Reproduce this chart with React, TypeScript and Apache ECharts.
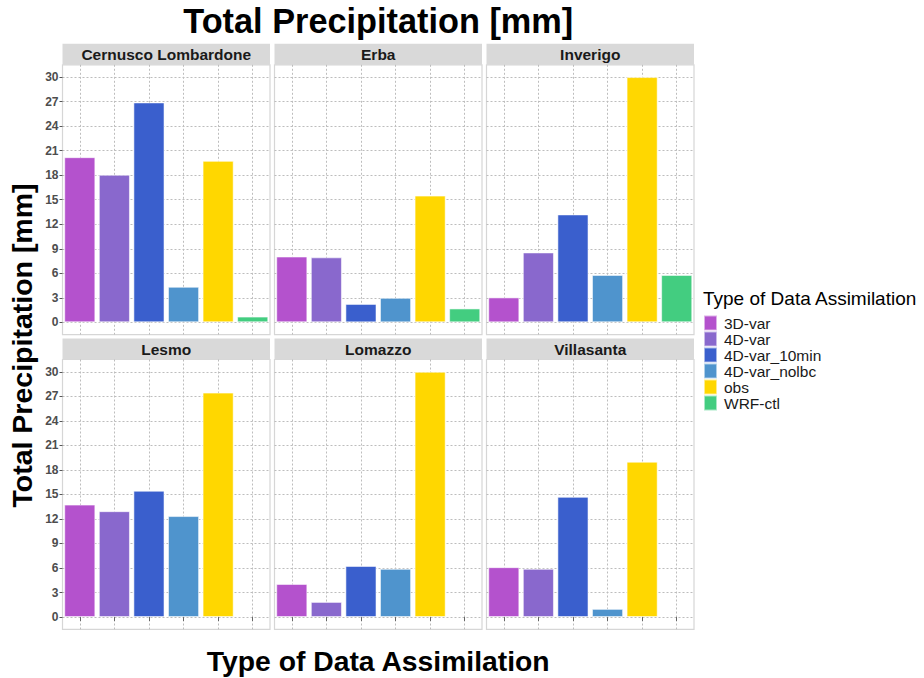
import React, { useEffect, useRef } from "react";
import * as echarts from "echarts";

const locations = ["Cernusco Lombardone", "Erba", "Inverigo", "Lesmo", "Lomazzo", "Villasanta"];
const types = ["3D-var", "4D-var", "4D-var_10min", "4D-var_nolbc", "obs", "WRF-ctl"];
const typeColors = ["#B452CD", "#8968CD", "#3A5FCD", "#4F94CD", "#FFD700", "#43CD80"];

// values per type, in the order of `locations`
const var3D = [20.2, 8.05, 3.05, 13.75, 4.05, 6.1];
const var4D = [18.05, 7.95, 8.55, 12.95, 1.85, 5.9];
const var4D10min = [26.9, 2.25, 13.2, 15.45, 6.25, 14.7];
const var4DNolbc = [4.35, 3.0, 5.8, 12.35, 5.9, 1.0];
const obs = [19.75, 15.5, 30.0, 27.45, 30.0, 19.0];
const wrfCtl: (number | null)[] = [0.7, 1.7, 5.8, null, null, null];
const typeValues = [var3D, var4D, var4D10min, var4DNolbc, obs, wrfCtl];

const yMin = 0;
const yMax = 30;
const yStep = 3;

const FONT = "Liberation Sans, Arial, Helvetica, sans-serif";

export default function App() {
  const ref = useRef<HTMLDivElement>(null);

  useEffect(() => {
    document.body.style.margin = "0";
    if (!ref.current) return;
    const chart = echarts.init(ref.current, undefined, { renderer: "svg" });

    const colLeft = [62.5, 274.5, 486.5];
    const rowTop = [64.8, 359.5];
    const panelW = 207.5;
    const panelH = 269.8;
    const expand = (panelH / (yMax - yMin + 2 * 0.05 * (yMax - yMin))) * 0.05 * (yMax - yMin);
    const stripH = 21;

    // frame slots: 2 per category, so odd slots sit at the category centres
    const frameSlots = Array.from({ length: types.length * 2 + 1 }, (_, k) => String(k));

    const grids: any[] = [];
    const xAxes: any[] = [];
    const yAxes: any[] = [];
    const series: any[] = [];
    const graphics: any[] = [];

    const grid = (dash: number[]) => ({ color: "#bdbdbd", type: dash, width: 1 });

    // outer (frame) grids
    locations.forEach((loc, p) => {
      const r = Math.floor(p / 3);
      const c = p % 3;
      grids.push({
        left: colLeft[c],
        top: rowTop[r],
        width: panelW,
        height: panelH,
        show: true,
        borderColor: "#d6d6d6",
        borderWidth: 1.2,
        backgroundColor: "transparent",
      });
      xAxes.push({
        type: "category",
        gridIndex: p,
        data: frameSlots,
        boundaryGap: false,
        axisLine: { show: false },
        axisLabel: { show: false },
        axisTick: {
          show: r === 1,
          interval: (i: number) => i % 2 === 1,
          length: 4,
          lineStyle: { color: "#666", width: 1 },
        },
        splitLine: {
          show: true,
          interval: (i: number) => i % 2 === 1,
          lineStyle: grid([2, 2]),
        },
      });
      yAxes.push({ type: "value", gridIndex: p, min: yMin - 1.5, max: yMax + 1.5, show: false });

      // strip
      graphics.push({
        type: "rect",
        shape: { x: colLeft[c], y: rowTop[r] - stripH, width: panelW, height: stripH },
        style: { fill: "#d9d9d9" },
        silent: true,
      });
      graphics.push({
        type: "text",
        x: colLeft[c] + panelW / 2,
        y: rowTop[r] - stripH / 2 + 0.5,
        style: {
          text: loc,
          fontSize: 15.5,
          fontWeight: "bold",
          fontFamily: FONT,
          fill: "#1a1a1a",
          align: "center",
          verticalAlign: "middle",
        },
        silent: true,
      });
    });

    // inner (data) grids
    locations.forEach((loc, p) => {
      const r = Math.floor(p / 3);
      const c = p % 3;
      const gi = 6 + p;
      grids.push({
        left: colLeft[c],
        top: rowTop[r] + expand,
        width: panelW,
        height: panelH - 2 * expand,
      });
      xAxes.push({ type: "category", gridIndex: gi, data: types, show: false });
      yAxes.push({
        type: "value",
        gridIndex: gi,
        min: yMin,
        max: yMax,
        interval: yStep,
        axisLine: { show: false },
        axisTick: { show: c === 0, length: 3, lineStyle: { color: "#555" } },
        axisLabel: {
          show: c === 0,
          fontSize: 12,
          fontWeight: "bold",
          color: "#4d4d4d",
          fontFamily: FONT,
          margin: 4,
        },
        splitLine: { show: true, lineStyle: grid([2, 2]) },
      });
      types.forEach((t, k) => {
        const v = typeValues[k][p];
        series.push({
          type: "bar",
          name: t,
          xAxisIndex: gi,
          yAxisIndex: gi,
          stack: "panel" + p,
          barWidth: "90%",
          itemStyle: {
            color: typeColors[k],
            borderColor: "rgba(255,255,255,0.55)",
            borderWidth: 1,
          },
          data: types.map((_, j) => (j === k && v !== null ? v : "-")),
        });
      });
    });

    // titles
    const midX = colLeft[0] + (colLeft[2] + panelW - colLeft[0]) / 2;
    graphics.push({
      type: "text",
      x: midX,
      y: 21,
      style: {
        text: "Total Precipitation [mm]",
        fontSize: 34.3,
        fontWeight: "bold",
        fontFamily: FONT,
        fill: "#000",
        align: "center",
        verticalAlign: "middle",
      },
    });
    graphics.push({
      type: "text",
      x: midX,
      y: 661,
      style: {
        text: "Type of Data Assimilation",
        fontSize: 28.3,
        fontWeight: "bold",
        fontFamily: FONT,
        fill: "#000",
        align: "center",
        verticalAlign: "middle",
      },
    });
    graphics.push({
      type: "text",
      x: 22,
      y: 345.5,
      rotation: Math.PI / 2,
      style: {
        text: "Total Precipitation [mm]",
        fontSize: 28.5,
        fontWeight: "bold",
        fontFamily: FONT,
        fill: "#000",
        align: "center",
        verticalAlign: "middle",
      },
    });
    graphics.push({
      type: "text",
      x: 703,
      y: 298,
      style: {
        text: "Type of Data Assimilation",
        fontSize: 19,
        fontFamily: FONT,
        fill: "#000",
        align: "left",
        verticalAlign: "middle",
      },
    });

    chart.setOption({
      animation: false,
      backgroundColor: "#ffffff",
      textStyle: { fontFamily: FONT },
      grid: grids,
      xAxis: xAxes,
      yAxis: yAxes,
      series,
      legend: {
        data: types,
        orient: "vertical",
        left: 703,
        top: 314.5,
        padding: 0,
        icon: "rect",
        itemWidth: 13,
        itemHeight: 15,
        itemGap: -1,
        selectedMode: false,
        textStyle: {
          fontSize: 15.5,
          lineHeight: 15,
          color: "#1a1a1a",
          fontFamily: FONT,
          padding: [0, 0, 0, 2],
        },
      },
      graphic: graphics,
    });

    return () => chart.dispose();
  }, []);

  return <div ref={ref} style={{ width: 924, height: 678 }} />;
}
